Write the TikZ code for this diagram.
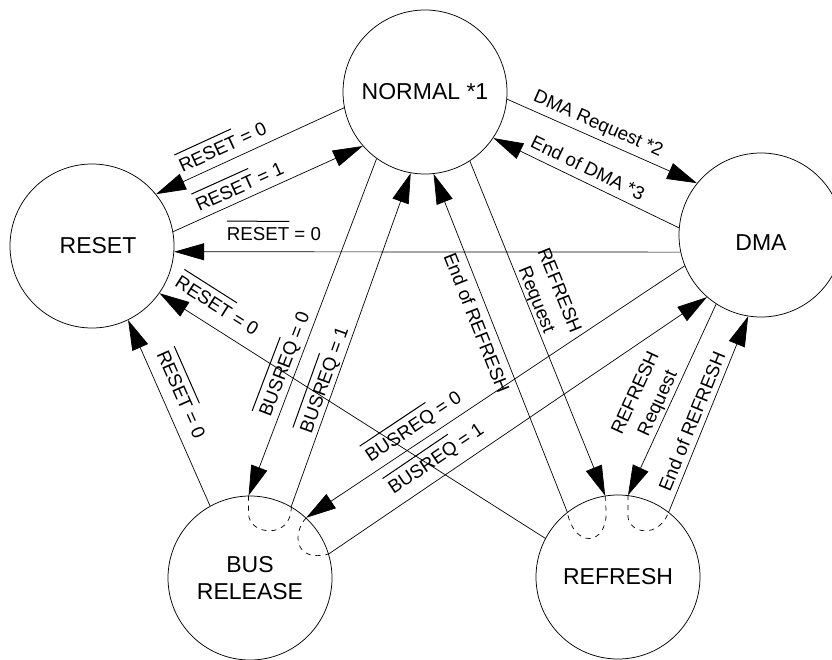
\documentclass[tikz,border=0pt]{standalone}
\usepackage{fontspec}
\setmainfont{Liberation Sans}
\usetikzlibrary{arrows.meta}
\newcommand\nodefont{\fontsize{23}{27.5}\selectfont}
\newcommand\lblfont{\fontsize{18.7}{24.5}\selectfont}
\newcommand\ovl[1]{\leavevmode\vbox{\hrule height 1pt\kern 6pt\hbox{#1}}}
\tikzset{
  state/.style={circle, draw, line width=0.75pt, minimum size=164pt, inner sep=0pt, font=\nodefont},
  tr/.style={line width=0.7pt, -{Triangle[length=30pt,width=17pt]}},
  lbl/.style={sloped, anchor=base, inner sep=0pt, font=\lblfont},
  lbltwo/.style={sloped, anchor=center, inner sep=0pt, align=center, font=\lblfont},
  loopd/.style={line width=0.7pt, dash pattern=on 5pt off 5pt}
}
\begin{document}
\begin{tikzpicture}[x=1pt,y=-1pt]
\useasboundingbox (0,0) rectangle (832,660);
\clip (0,0) rectangle (832,660);
\fill[white] (0,0) rectangle (832,660);
% states
\node[state] (normal) at (425,92) {NORMAL *1};
\node[state] (reset) at (92,246) {\hspace*{12pt}RESET};
\node[state, text height=32pt, text depth=0pt] (dma) at (761,235) {DMA};
\node[state, align=center] (bus) at (250,578) {BUS\\RELEASE};
\node[state] (refresh) at (618,577) {REFRESH};
% transitions
\draw[tr] (normal.191.6) -- (reset.39.6) node[lbl, pos=0.613, yshift=8.4pt] {\ovl{RESET} = 0};
\draw[tr] (reset.10.5) -- (normal.221.6) node[lbl, pos=0.380, yshift=7.2pt] {\ovl{RESET} = 1};
\draw[tr] (dma.192) -- (reset.-4.2) node[lbl, pos=0.803, yshift=11pt] {\ovl{RESET} = 0};
\draw[tr] (normal.-5.5) -- (dma.141) node[lbl, pos=0.45, yshift=8.8pt] {DMA Request *2};
\draw[tr] (dma.175) -- (normal.-34.5) node[lbl, pos=0.524, yshift=7.8pt] {End of DMA *3};
\draw[tr] (normal.234.8) -- (bus.91.4) node[lbl, pos=0.623, yshift=7.2pt] {\ovl{BUSREQ} = 0};
\draw[tr] (bus.60.6) -- (normal.260.9) node[lbl, pos=0.368, yshift=5.5pt] {\ovl{BUSREQ} = 1};
\draw[tr] (bus.119.2) -- (reset.-64.7) node[lbl, pos=0.559, yshift=12.1pt] {\ovl{RESET} = 0};
\draw[tr] (refresh.152.5) -- (reset.-35) node[lbl, pos=0.879, yshift=13.9pt] {\ovl{RESET} = 0};
\draw[tr] (dma.202.3) -- (bus.47.5) node[lbl, pos=0.693, yshift=10.4pt] {\ovl{BUSREQ} = 0};
\draw[tr] (bus.17.8) -- (dma.229.8) node[lbl, pos=0.311, yshift=12.6pt] {\ovl{BUSREQ} = 1};
\draw[tr] (normal.-57.8) -- (refresh.99.3) node[lbltwo, pos=0.426, yshift=21pt] {REFRESH\\Request};
\draw[tr] (refresh.128.6) -- (normal.-84) node[lbl, pos=0.575, yshift=-21.2pt] {End of REFRESH};
\draw[tr] (dma.237.3) -- (refresh.83) node[lbltwo, pos=0.544, yshift=22.8pt] {REFRESH\\Request};
\draw[tr] (refresh.52.9) -- (dma.261.6) node[lbl, pos=0.439, yshift=5.9pt] {End of REFRESH};
% dashed internal continuations
\draw[loopd] (bus.91.4) -- ++(0,18) .. controls +(0,22) and +(1,33) .. (bus.60.6);
\draw[loopd] (bus.47.5) .. controls +(-15,17) and +(-33,9) .. (bus.17.8);
\draw[loopd] (refresh.99.3) -- ++(1,16) .. controls +(1,34) and +(7,37) .. (refresh.128.6);
\draw[loopd] (refresh.83) -- ++(0,22) .. controls +(1,15) and +(-11,28) .. (refresh.52.9);
\end{tikzpicture}
\end{document}
